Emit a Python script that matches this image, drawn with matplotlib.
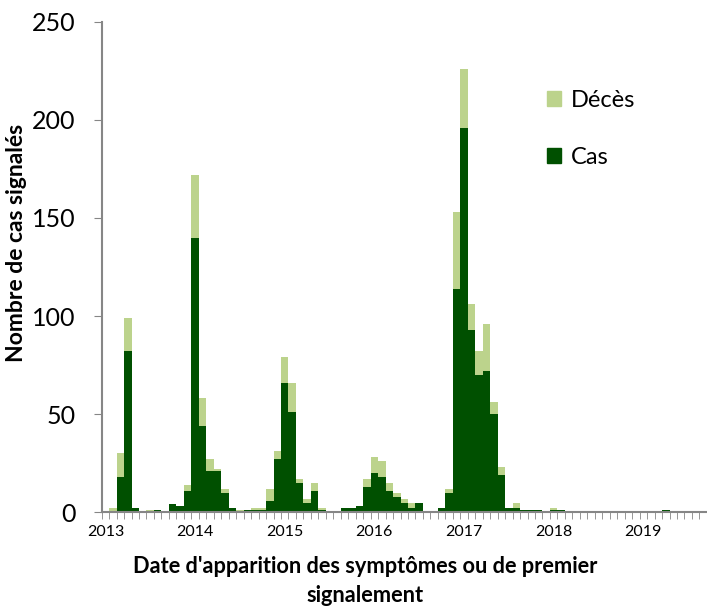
import numpy as np
import matplotlib
matplotlib.use("Agg")
import matplotlib.pyplot as plt
from matplotlib.patches import Patch

# cas mensuels depuis janvier 2013
cas = [0, 0, 18, 82, 2, 0, 0, 1, 0, 4, 3, 11,
       140, 44, 21, 21, 10, 2, 0, 1, 1, 1, 6, 27,
       66, 51, 15, 5, 11, 1, 0, 0, 2, 2, 3, 13,
       20, 18, 11, 8, 5, 2, 5, 0, 0, 2, 10, 114,
       196, 93, 70, 72, 50, 19, 2, 2, 1, 1, 1, 0,
       1, 1, 0, 0, 0, 0, 0, 0, 0, 0, 0, 0,
       0, 0, 0, 1, 0, 0, 0, 0, 0]
deces = [0, 2, 12, 17, 0, 0, 1, 0, 0, 0, 0, 3,
         32, 14, 6, 1, 2, 0, 1, 0, 1, 1, 6, 4,
         13, 15, 2, 2, 4, 1, 0, 0, 0, 0, 0, 4,
         8, 8, 4, 2, 2, 3, 0, 0, 0, 0, 2, 39,
         30, 13, 12, 24, 6, 4, 0, 3, 0, 0, 0, 0,
         1, 0, 0, 0, 0, 0, 0, 0, 0, 0, 0, 0,
         0, 0, 0, 0, 0, 0, 0, 0, 0]
annees = ["2013", "2014", "2015", "2016", "2017", "2018", "2019"]

vert_fonce = "#005000"
vert_clair = "#bcd38c"
gris = "#868686"

plt.rcParams['font.family'] = ['Lato', 'DejaVu Sans']

fig = plt.figure(figsize=(7.07, 6.11), dpi=100)
ax = fig.add_axes([0.1438, 0.1615, 0.856, 0.803])

x = np.arange(len(cas))
ax.bar(x, cas, width=1.0, align='edge', color=vert_fonce, label='Cas')
ax.bar(x, deces, width=1.0, align='edge', bottom=cas, color=vert_clair, label='Décès')

ax.set_xlim(0, len(cas))
ax.set_ylim(0, 250)
ax.set_yticks([0, 50, 100, 150, 200, 250])
ax.tick_params(axis='y', labelsize=18, length=6, color=gris, direction='out', pad=13)

ax.set_xticks(np.arange(len(annees)) * 12 + 0.5)
ax.set_xticklabels(annees)
ax.set_xticks(np.arange(0, len(cas) + 1), minor=True)
ax.tick_params(axis='x', which='major', length=0, labelsize=11.5, pad=9)
ax.tick_params(axis='x', which='minor', length=5, color=gris, direction='out')

for s in ['top', 'right']:
    ax.spines[s].set_visible(False)
for s in ['left', 'bottom']:
    ax.spines[s].set_color(gris)
    ax.spines[s].set_linewidth(1.5)

ax.set_ylabel("Nombre de cas signalés", fontsize=16.5, fontweight='bold')
ax.yaxis.set_label_coords(-0.1234, 0.549)
ax.set_xlabel("Date d'apparition des symptômes ou de premier\nsignalement",
              fontsize=15.7, fontweight='bold', linespacing=1.45)
ax.xaxis.set_label_coords(0.435, -0.09)
ax.xaxis.label.set_verticalalignment('top')

handles = [Patch(color=vert_clair, label='Décès'), Patch(color=vert_fonce, label='Cas')]
ax.legend(handles=handles, loc='upper left', bbox_to_anchor=(0.7, 0.905), frameon=False,
          fontsize=17, labelspacing=1.55, handlelength=0.6, handleheight=0.6,
          handletextpad=0.45)

fig.savefig("out.png", dpi=100)
